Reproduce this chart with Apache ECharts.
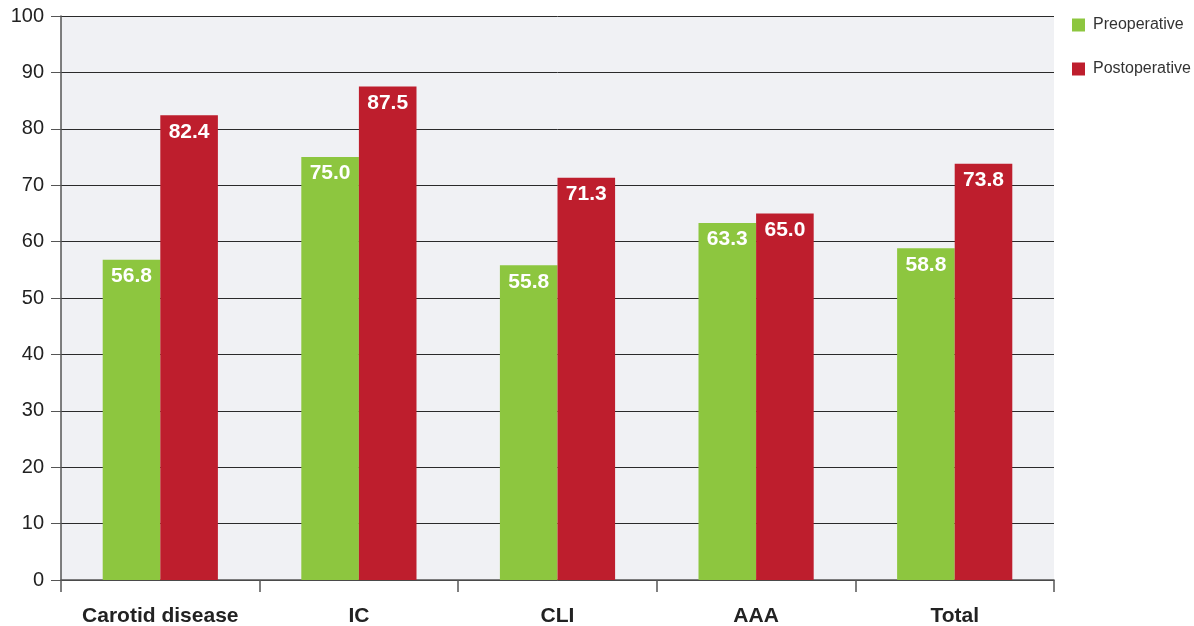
<!DOCTYPE html>
<html>
<head>
<meta charset="utf-8">
<script src="https://cdn.jsdelivr.net/npm/echarts@6/dist/echarts.min.js"></script>
<style>
  html, body { margin: 0; padding: 0; background: #ffffff; }
  #chart { width: 1194px; height: 626px; }
</style>
</head>
<body>
<div id="chart"></div>
<script>
const categories = ['Carotid disease', 'IC', 'CLI', 'AAA', 'Total'];
const preoperative = [56.8, 75.0, 55.8, 63.3, 58.8];
const postoperative = [82.4, 87.5, 71.3, 65.0, 73.8];
const seriesNames = ['Preoperative', 'Postoperative'];

const FONT = '"Liberation Sans", Arial, sans-serif';

const valueLabel = {
  show: true,
  position: 'insideTop',
  distance: 6,
  color: '#ffffff',
  fontFamily: FONT,
  fontWeight: 'bold',
  fontSize: 21,
  formatter: p => p.value.toFixed(1)
};

const chart = echarts.init(document.getElementById('chart'), null, { renderer: 'canvas' });
chart.setOption({
  animation: false,
  backgroundColor: '#ffffff',
  grid: {
    left: 61, right: 140, top: 16, bottom: 46,
    outerBoundsMode: 'none',
    show: true, backgroundColor: '#f0f1f4', borderWidth: 0
  },
  legend: {
    orient: 'vertical',
    left: 1067, top: 12,
    itemWidth: 13, itemHeight: 13, itemGap: 28,
    icon: 'rect',
    textStyle: { fontFamily: FONT, fontSize: 16, color: '#333333', padding: [0, 0, 0, 3] },
    data: seriesNames
  },
  xAxis: {
    type: 'category',
    data: categories,
    axisLine: { show: true, lineStyle: { color: '#555555', width: 1.5 } },
    axisTick: { show: true, interval: 0, alignWithLabel: false, length: 12, lineStyle: { color: '#555555', width: 1.5 } },
    axisLabel: { interval: 0, margin: 26, fontFamily: FONT, fontWeight: 'bold', fontSize: 21, color: '#222222' },
    splitLine: { show: false }
  },
  yAxis: {
    type: 'value',
    min: 0, max: 100, interval: 10,
    axisLine: { show: true, lineStyle: { color: '#555555', width: 1.5 } },
    axisTick: { show: true, length: 10, lineStyle: { color: '#555555', width: 1 } },
    axisLabel: { margin: 17, fontFamily: FONT, fontSize: 20, color: '#222222' },
    splitLine: { show: true, lineStyle: { color: '#2a2a2a', width: 1 } }
  },
  series: [
    {
      name: seriesNames[0], type: 'bar', data: preoperative,
      itemStyle: { color: '#8dc63f' },
      barGap: '0%', barCategoryGap: '42%',
      label: valueLabel
    },
    {
      name: seriesNames[1], type: 'bar', data: postoperative,
      itemStyle: { color: '#be1e2d' },
      barGap: '0%', barCategoryGap: '42%',
      label: valueLabel
    }
  ]
});
</script>
</body>
</html>
